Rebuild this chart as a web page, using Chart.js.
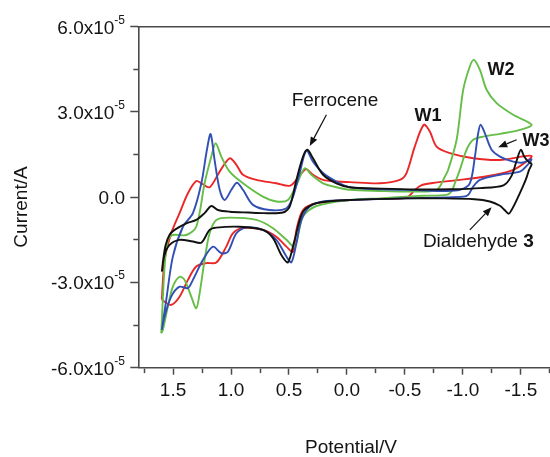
<!DOCTYPE html>
<html>
<head>
<meta charset="utf-8">
<script src="https://cdn.jsdelivr.net/npm/chart.js@4.4.1/dist/chart.umd.min.js"></script>
<style>
  html, body { margin: 0; padding: 0; background: #fff; overflow: hidden; }
  #cv { display: block; }
</style>
</head>
<body>
<canvas id="cv" width="560" height="457"></canvas>
<script>
// potential in V, current in units of 1e-5 A
// each loop: left vertex -> right vertex (upper branch) -> back (lower branch)
const dialdehydePotential = [
  1.597, 1.585, 1.565, 1.53, 1.487, 1.386, 1.30, 1.228, 1.17, 1.113, 1.012, 0.85, 0.725, 0.552, 0.494, 0.436, 0.379, 0.341, 0.293, 0.206, 0.091, -0.024, -0.3, -0.6, -0.9, -1.15, -1.35, -1.42, -1.465, -1.50, -1.53, -1.565, -1.593,
  -1.57, -1.55, -1.52, -1.464, -1.42, -1.395, -1.36, -1.32, -1.233, -1.1, -0.8, -0.514, -0.024, 0.263, 0.379, 0.451, 0.509, 0.566, 0.638, 0.725, 0.926, 1.127, 1.185, 1.256, 1.329, 1.444, 1.53, 1.575, 1.597
];
const dialdehydeCurrent = [
  -2.62, -2.2, -1.7, -1.32, -1.15, -0.92, -0.80, -0.56, -0.31, -0.45, -0.51, -0.54, -0.56, -0.54, -0.33, 0.61, 1.43, 1.67, 1.37, 0.79, 0.49, 0.35, 0.30, 0.27, 0.28, 0.32, 0.42, 0.75, 1.3, 1.67, 1.42, 1.25, 1.17,
  0.95, 0.7, 0.4, -0.1, -0.45, -0.58, -0.45, -0.3, -0.15, -0.07, -0.04, -0.04, -0.10, -0.21, -0.51, -1.50, -2.29, -2.03, -1.44, -1.15, -1.04, -1.07, -1.15, -1.60, -1.56, -1.50, -1.68, -2.05, -2.62
];

const w3Potential = [
  1.597, 1.559, 1.502, 1.415, 1.329, 1.256, 1.208, 1.176, 1.142, 1.098, 1.055, 0.997, 0.949, 0.897, 0.811, 0.667, 0.522, 0.465, 0.408, 0.35, 0.293, 0.206, 0.091, -0.024, -0.3, -0.6, -0.85, -0.974, -1.06, -1.104, -1.132, -1.153, -1.19, -1.248, -1.32, -1.434, -1.52, -1.593,
  -1.55, -1.492, -1.32, -1.147, -1.089, -1.046, -1.003, -0.514, -0.024, 0.206, 0.321, 0.393, 0.436, 0.479, 0.522, 0.609, 0.725, 0.868, 0.954, 1.027, 1.084, 1.156, 1.243, 1.329, 1.372, 1.444, 1.516, 1.573, 1.597
];
const w3Current = [
  -4.67, -3.62, -2.09, -1.04, -0.56, 0.49, 1.67, 2.22, 1.31, 0.26, -0.10, 0.26, 0.51, 0.26, -0.27, -0.45, -0.39, 0.02, 0.85, 1.64, 1.25, 0.85, 0.55, 0.35, 0.28, 0.25, 0.22, 0.26, 0.49, 1.43, 2.25, 2.55, 2.25, 1.67, 1.43, 1.25, 1.22, 1.34,
  1.1, 0.90, 0.79, 0.61, 0.37, 0.08, 0.02, -0.04, -0.10, -0.15, -0.33, -0.80, -1.62, -2.29, -2.09, -1.50, -1.15, -1.06, -1.27, -1.92, -1.97, -1.74, -2.21, -2.91, -3.20, -3.15, -3.50, -4.20, -4.67
];

const w2Potential = [
  1.602, 1.573, 1.545, 1.502, 1.386, 1.30, 1.228, 1.17, 1.133, 1.084, 1.012, 0.897, 0.725, 0.609, 0.509, 0.436, 0.364, 0.307, 0.206, 0.091, -0.024, -0.283, -0.514, -0.773, -0.845, -0.873, -0.946, -1.003, -1.06, -1.095, -1.147, -1.205, -1.291, -1.434, -1.593,
  -1.492, -1.32, -1.175, -1.089, -1.032, -0.974, -0.931, -0.902, -0.859, -0.657, -0.514, -0.283, -0.024, 0.263, 0.379, 0.451, 0.522, 0.638, 0.782, 1.012, 1.127, 1.185, 1.228, 1.271, 1.30, 1.343, 1.401, 1.444, 1.502, 1.545, 1.588, 1.602
];
const w2Current = [
  -4.79, -2.44, -1.50, -1.33, -1.33, -1.04, 0.49, 1.43, 1.90, 1.43, 0.90, 0.49, 0.02, -0.15, -0.10, 0.43, 1.02, 0.79, 0.49, 0.35, 0.26, 0.22, 0.20, 0.26, 0.73, 0.96, 2.02, 3.78, 4.60, 4.83, 4.48, 3.78, 3.31, 2.90, 2.55,
  2.37, 2.23, 2.13, 2.02, 1.67, 0.96, 0.49, 0.2, 0.08, 0.05, 0.02, -0.04, -0.10, -0.31, -0.68, -1.74, -1.50, -1.09, -0.80, -0.72, -0.80, -1.27, -2.21, -3.38, -3.91, -3.50, -2.91, -2.80, -3.15, -3.85, -4.67, -4.79
];

const w1Potential = [
  1.597, 1.573, 1.516, 1.444, 1.372, 1.30, 1.256, 1.185, 1.098, 1.012, 0.954, 0.897, 0.782, 0.609, 0.494, 0.436, 0.379, 0.35, 0.293, 0.206, 0.091, -0.024, -0.283, -0.456, -0.514, -0.585, -0.663, -0.715, -0.773, -0.888, -1.089, -1.32, -1.593,
  -1.43, -1.15, -0.95, -0.74, -0.64, -0.585, -0.53, -0.48, -0.283, -0.024, 0.263, 0.379, 0.436, 0.465, 0.522, 0.609, 0.725, 0.897, 0.984, 1.041, 1.127, 1.213, 1.30, 1.372, 1.444, 1.516, 1.573, 1.597
];
const w1Current = [
  -3.59, -2.21, -1.27, -0.56, 0.14, 0.57, 0.49, 0.35, 0.90, 1.37, 1.14, 0.79, 0.61, 0.49, 0.40, 0.61, 0.90, 0.99, 0.79, 0.61, 0.55, 0.53, 0.49, 0.61, 0.85, 1.78, 2.55, 2.31, 1.78, 1.55, 1.37, 1.31, 1.45,
  0.95, 0.70, 0.60, 0.50, 0.42, 0.25, 0.02, -0.04, -0.06, -0.10, -0.21, -0.45, -1.15, -1.92, -1.74, -1.39, -1.15, -1.09, -1.27, -1.74, -2.30, -2.32, -2.44, -2.91, -3.50, -3.79, -3.68, -3.59
];

// axis tick labels
const yMajorTicks = [-6, -3, 0, 3, 6];
const yExponent = '-5';
const xMajorStep = 0.5;

const fontFamily = '"Liberation Sans", Arial, Helvetica, sans-serif';
const axisColor = '#4a4a4a';
const textColor = '#141414';

function toPoints(pot, cur) {
  return pot.map((v, i) => ({ x: v, y: cur[i] }));
}

function isMajor(v, step) {
  const r = v / step;
  return Math.abs(r - Math.round(r)) < 1e-6;
}

function arrow(ctx, x1, y1, x2, y2) {
  const ang = Math.atan2(y2 - y1, x2 - x1);
  const len = 9, half = 3.6;
  const bx = x2 - len * Math.cos(ang), by = y2 - len * Math.sin(ang);
  ctx.beginPath();
  ctx.moveTo(x1, y1);
  ctx.lineTo(bx, by);
  ctx.stroke();
  ctx.beginPath();
  ctx.moveTo(x2, y2);
  ctx.lineTo(bx + half * Math.sin(ang), by - half * Math.cos(ang));
  ctx.lineTo(bx - half * Math.sin(ang), by + half * Math.cos(ang));
  ctx.closePath();
  ctx.fill();
}

const overlay = {
  id: 'overlay',
  afterDraw(chart) {
    const { ctx, chartArea, scales } = chart;
    const xs = scales.x, ys = scales.y;
    const px = v => xs.getPixelForValue(v);
    const py = v => ys.getPixelForValue(v);
    ctx.save();

    // top frame line
    ctx.strokeStyle = axisColor;
    ctx.lineWidth = 1.6;
    ctx.beginPath();
    ctx.moveTo(chartArea.left - 0.8, chartArea.top);
    ctx.lineTo(chartArea.right, chartArea.top);
    ctx.stroke();

    // y tick labels with superscript exponent
    ctx.fillStyle = textColor;
    ctx.textBaseline = 'alphabetic';
    const labelRight = 125;
    yMajorTicks.forEach(v => {
      const y = py(v);
      if (v === 0) {
        ctx.font = '19px ' + fontFamily;
        ctx.textAlign = 'right';
        ctx.fillText('0.0', labelRight, y + 7);
        return;
      }
      ctx.font = '12px ' + fontFamily;
      ctx.textAlign = 'left';
      const expW = ctx.measureText(yExponent).width;
      ctx.fillText(yExponent, labelRight - expW, y - 3);
      ctx.font = '19px ' + fontFamily;
      ctx.textAlign = 'right';
      ctx.fillText(v.toFixed(1) + 'x10', labelRight - expW, y + 7);
    });

    // axis titles
    ctx.textAlign = 'center';
    ctx.textBaseline = 'middle';
    ctx.font = '19px ' + fontFamily;
    ctx.fillText('Potential/V', 351, 448);
    ctx.save();
    ctx.translate(22, 207);
    ctx.rotate(-Math.PI / 2);
    ctx.fillText('Current/A', 0, 0);
    ctx.restore();

    // annotations
    ctx.textAlign = 'left';
    ctx.font = '19px ' + fontFamily;
    ctx.fillText('Ferrocene', px(0.477), py(3.40));
    ctx.fillText('Dialdehyde ', px(-0.655), py(-1.57));
    const dw = ctx.measureText('Dialdehyde ').width;
    ctx.font = 'bold 19px ' + fontFamily;
    ctx.fillText('3', px(-0.655) + dw, py(-1.57));
    ctx.font = 'bold 18px ' + fontFamily;
    ctx.fillText('W1', px(-0.582), py(2.86));
    ctx.fillText('W2', px(-1.212), py(4.46));
    ctx.fillText('W3', px(-1.515), py(1.99));

    ctx.strokeStyle = '#111';
    ctx.fillStyle = '#111';
    ctx.lineWidth = 1.2;
    arrow(ctx, px(0.177), py(2.90), px(0.321), py(1.80));
    arrow(ctx, px(-1.464), py(2.02), px(-1.305), py(1.76));
    arrow(ctx, px(-1.06), py(-1.15), px(-1.248), py(-0.35));

    ctx.restore();
  }
};

const lineStyle = { showLine: true, pointRadius: 0, borderWidth: 1.9, tension: 0.3, fill: false };

new Chart(document.getElementById('cv'), {
  type: 'scatter',
  data: {
    datasets: [
      Object.assign({ label: 'Dialdehyde 3', data: toPoints(dialdehydePotential, dialdehydeCurrent), borderColor: '#111111' }, lineStyle),
      Object.assign({ label: 'W3', data: toPoints(w3Potential, w3Current), borderColor: '#324fb4' }, lineStyle),
      Object.assign({ label: 'W2', data: toPoints(w2Potential, w2Current), borderColor: '#66be48' }, lineStyle),
      Object.assign({ label: 'W1', data: toPoints(w1Potential, w1Current), borderColor: '#ea2626' }, lineStyle)
    ]
  },
  options: {
    responsive: false,
    animation: false,
    layout: { padding: { top: 26.7, right: 4.4, bottom: 0, left: 0 } },
    plugins: {
      legend: { display: false },
      tooltip: { enabled: false }
    },
    scales: {
      x: {
        type: 'linear',
        reverse: true,
        min: -1.8,
        max: 1.8,
        afterFit(scale) { scale.height = 89.3; },
        border: { color: axisColor, width: 1.6 },
        grid: {
          drawOnChartArea: false,
          tickLength: 7,
          tickColor: axisColor,
          tickWidth: 1.5,
          tickBorderDash: c => (c.tick && isMajor(c.tick.value, xMajorStep)) ? [] : [4.5, 20]
        },
        ticks: {
          stepSize: 0.25,
          includeBounds: false,
          autoSkip: false,
          maxRotation: 0,
          padding: 5,
          color: textColor,
          font: { family: fontFamily, size: 19 },
          callback: v => isMajor(v, xMajorStep) ? Number(v).toFixed(1) : ''
        }
      },
      y: {
        type: 'linear',
        min: -6,
        max: 6,
        afterFit(scale) { scale.width = 138.3; },
        border: { color: axisColor, width: 1.6 },
        grid: {
          drawOnChartArea: false,
          tickLength: 8,
          tickColor: axisColor,
          tickWidth: 1.5,
          tickBorderDash: c => (c.tick && isMajor(c.tick.value, 3)) ? [] : [0, 3, 5, 20]
        },
        ticks: {
          stepSize: 1.5,
          autoSkip: false,
          callback: () => ''
        }
      }
    }
  },
  plugins: [overlay]
});
</script>
</body>
</html>
